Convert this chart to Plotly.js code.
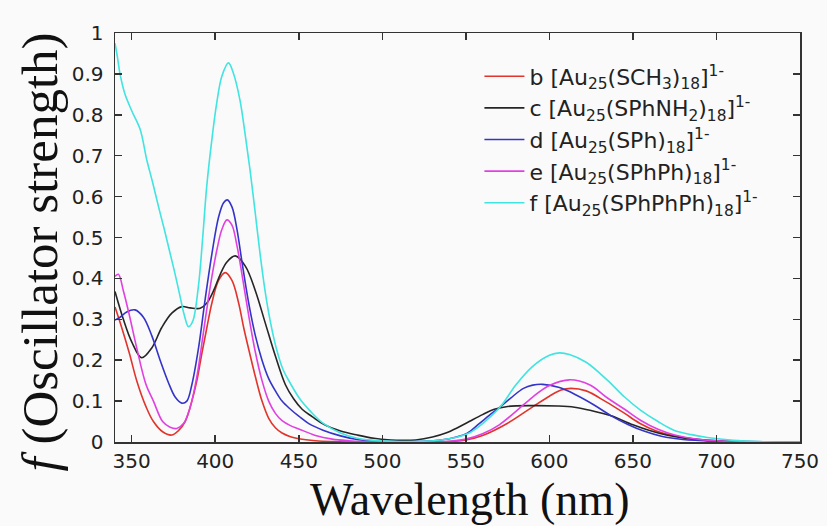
<!DOCTYPE html>
<html>
<head>
<meta charset="utf-8">
<script src="https://cdn.plot.ly/plotly-3.0.1.min.js"></script>
<style>html,body{margin:0;padding:0;background:#fafafa;}#chart{width:827px;height:526px;}</style>
</head>
<body>
<div id="chart"></div>
<script>
// b [Au25(SCH3)18]1-
var wlB = [340,344,348.6,353,358.6,363,368.5,374,378,382,386,389,392,395,398,402,406,410,414,417,420.6,424,428,432,436,440,445,450,460,470,485,520,540,550,560,575,590,600,607,613,622,634,645,654,664,674,690,710,750];
var fB  = [0.33,0.28,0.217,0.15,0.086,0.05,0.025,0.017,0.028,0.05,0.1,0.15,0.217,0.28,0.34,0.395,0.414,0.395,0.34,0.28,0.217,0.16,0.1,0.058,0.035,0.022,0.013,0.008,0.003,0.001,0,0,0.001,0.005,0.016,0.046,0.086,0.112,0.127,0.131,0.125,0.098,0.07,0.046,0.027,0.016,0.005,0.001,0];
// c [Au25(SPhNH2)18]1-
var wlC = [340,345,350,356,362,368,374,380,385,391,395,399,403,407,412,418,424,430,436,442,447,452,458,465,475,485,495,505,512,520,530,538,545,552,560,567,575,590,605,615,625,637,650,660,670,680,695,715,750];
var fC  = [0.368,0.3,0.245,0.206,0.23,0.28,0.315,0.331,0.328,0.327,0.34,0.37,0.41,0.44,0.455,0.43,0.37,0.29,0.21,0.14,0.105,0.08,0.062,0.043,0.027,0.017,0.009,0.005,0.004,0.005,0.012,0.022,0.035,0.05,0.067,0.08,0.087,0.089,0.088,0.085,0.077,0.064,0.042,0.028,0.017,0.01,0.004,0.001,0];
// d [Au25(SPh)18]1-
var wlD = [340,343,347,352,357,362,367,372,376,380,383,386,390,394,398,402,405,407.2,410,413,416,420,424,428,432,436,440,445,450,456,464.5,475,485,495,505,520,535,545,550.6,558,564,570.6,577,584.5,590,596,606,616,627,637,647,657,667,680,700,720,750];
var fD  = [0.298,0.305,0.318,0.323,0.305,0.26,0.2,0.145,0.11,0.095,0.1,0.14,0.23,0.35,0.46,0.55,0.585,0.592,0.575,0.52,0.44,0.34,0.26,0.2,0.155,0.125,0.1,0.08,0.063,0.045,0.029,0.015,0.006,0.002,0.001,0.001,0.005,0.013,0.021,0.045,0.065,0.086,0.108,0.131,0.139,0.141,0.133,0.115,0.09,0.064,0.043,0.026,0.014,0.006,0.002,0.001,0];
// e [Au25(SPhPh)18]1-
var wlE = [340,342,345,348.6,353,358.6,363,368.5,373,377,381,385,389,393,397,401,404,407,410,413,416,420,424,428,432,436,440,445,450,460,470,480,490,500,530,540,550,560,570,580,590,600,612,624,635,645,655,665,675,690,710,730,750];
var fE  = [0.405,0.41,0.37,0.31,0.23,0.14,0.1,0.05,0.036,0.033,0.045,0.085,0.16,0.27,0.38,0.47,0.52,0.543,0.53,0.48,0.41,0.31,0.22,0.15,0.1,0.07,0.052,0.04,0.032,0.016,0.007,0.003,0.001,0,0,0.002,0.007,0.02,0.042,0.075,0.11,0.138,0.152,0.14,0.107,0.08,0.052,0.031,0.017,0.006,0.001,0,0];
// f [Au25(SPhPhPh)18]1-
var wlF = [340,341.5,343,346,350,355,359,362.5,366,369.5,373,376,379,381.5,384,386.5,389.9,392.5,394.9,398,400.9,404,407.9,411,414.8,417.8,420.8,423.8,426.8,429.8,432.8,436.5,440.7,445,450.7,457,464.5,475,485,495,510,525,535,545,552,560,570.6,580,590,600,606,612,622,634.5,645,654.5,665,674.5,685,694.5,710,725,750];
var fF  = [0.975,0.94,0.9,0.85,0.81,0.765,0.69,0.635,0.576,0.52,0.461,0.41,0.355,0.31,0.282,0.295,0.38,0.5,0.625,0.74,0.829,0.895,0.927,0.9,0.836,0.755,0.666,0.565,0.461,0.37,0.298,0.23,0.176,0.143,0.105,0.075,0.046,0.022,0.009,0.004,0.001,0.002,0.005,0.012,0.022,0.045,0.086,0.14,0.185,0.212,0.218,0.214,0.195,0.152,0.11,0.078,0.05,0.029,0.018,0.011,0.004,0.001,0];

var seriesNames = [
  'b [Au<sub>25</sub>(SCH<sub>3</sub>)<sub>18</sub>]<sup>1-</sup>',
  'c [Au<sub>25</sub>(SPhNH<sub>2</sub>)<sub>18</sub>]<sup>1-</sup>',
  'd [Au<sub>25</sub>(SPh)<sub>18</sub>]<sup>1-</sup>',
  'e [Au<sub>25</sub>(SPhPh)<sub>18</sub>]<sup>1-</sup>',
  'f [Au<sub>25</sub>(SPhPhPh)<sub>18</sub>]<sup>1-</sup>'
];
var seriesX = [wlB, wlC, wlD, wlE, wlF];
var seriesY = [fB, fC, fD, fE, fF];
var seriesColors = ['#e0342c', '#262626', '#3434c8', '#e040e0', '#40e4e0'];

var xTicks = [350,400,450,500,550,600,650,700,750];
var yTicks = [0,0.1,0.2,0.3,0.4,0.5,0.6,0.7,0.8,0.9,1];
var xTitle = 'Wavelength (nm)';
var yTitle = '<i>f</i> (Oscillator strength)';

var traces = seriesNames.map(function(n, i){
  return {
    x: seriesX[i], y: seriesY[i], name: n, type: 'scatter', mode: 'lines',
    line: {color: seriesColors[i], width: 1.6, shape: 'spline', smoothing: 1}
  };
});

var axisCommon = {
  showline: true, mirror: 'ticks', linecolor: '#333', linewidth: 1.5,
  ticks: 'inside', ticklen: 7, tickwidth: 1.5, tickcolor: '#333',
  showgrid: false, zeroline: false,
  tickfont: {family: 'DejaVu Sans', size: 20, color: '#222'}
};

var layout = {
  width: 827, height: 526,
  margin: {l: 115, r: 27, t: 33, b: 84},
  paper_bgcolor: '#fafafa', plot_bgcolor: '#fafafa',
  showlegend: true,
  legend: {x: 0.532, y: 0.945, xanchor: 'left', yanchor: 'top', bgcolor: 'rgba(0,0,0,0)',
           font: {family: 'DejaVu Sans', size: 22, color: '#222'}, itemwidth: 40},
  xaxis: Object.assign({}, axisCommon, {
    range: [340, 750], tickmode: 'array', tickvals: xTicks, ticktext: xTicks.map(String),
    ticklabelstandoff: 0
  }),
  yaxis: Object.assign({}, axisCommon, {
    range: [0, 1], tickmode: 'array', tickvals: yTicks, ticktext: yTicks.map(String),
    ticklabelstandoff: 6
  }),
  annotations: [
    {text: xTitle, xref: 'paper', yref: 'paper', x: 0.517, y: -0.14, xanchor: 'center', yanchor: 'middle',
     showarrow: false, font: {family: 'Liberation Serif', size: 46, color: '#111'}},
    {text: yTitle, xref: 'paper', yref: 'paper', x: -0.11, y: 0.465, xanchor: 'center', yanchor: 'middle',
     textangle: -90, showarrow: false, font: {family: 'Liberation Serif', size: 51, color: '#111'}}
  ]
};

Plotly.newPlot('chart', traces, layout, {displayModeBar: false, staticPlot: true});
</script>
</body>
</html>
